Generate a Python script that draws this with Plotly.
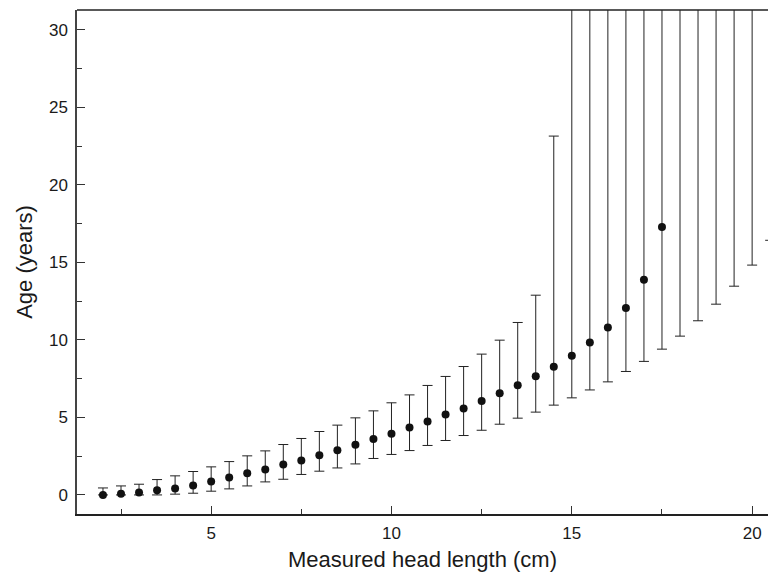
import plotly.graph_objects as go

# Measured head length (cm)
head_length = [2.0, 2.5, 3.0, 3.5, 4.0, 4.5, 5.0, 5.5, 6.0, 6.5, 7.0, 7.5, 8.0, 8.5,
               9.0, 9.5, 10.0, 10.5, 11.0, 11.5, 12.0, 12.5, 13.0, 13.5, 14.0, 14.5,
               15.0, 15.5, 16.0, 16.5, 17.0, 17.5, 18.0, 18.5, 19.0, 19.5, 20.0, 20.5]
# Estimated age (years); None where no estimate is shown
age = [0.0, 0.07, 0.15, 0.30, 0.41, 0.61, 0.86, 1.12, 1.40, 1.64, 1.96, 2.22, 2.56, 2.88,
       3.23, 3.61, 3.94, 4.35, 4.74, 5.19, 5.57, 6.05, 6.55, 7.08, 7.66, 8.26,
       8.97, 9.83, 10.80, 12.05, 13.87, 17.27, None, None, None, None, None, None]
# Lower limit of interval
age_lower = [0.0, 0.0, 0.0, 0.0, 0.05, 0.11, 0.24, 0.39, 0.58, 0.84, 1.01, 1.32, 1.53, 1.74,
             2.00, 2.35, 2.61, 2.86, 3.19, 3.51, 3.83, 4.17, 4.56, 4.95, 5.34, 5.79,
             6.26, 6.77, 7.29, 7.96, 8.61, 9.40, 10.24, 11.23, 12.30, 13.46, 14.82, 16.42]
# Upper limit of interval (60 = unbounded, runs off the top of the chart)
age_upper = [0.45, 0.58, 0.69, 0.99, 1.23, 1.51, 1.81, 2.15, 2.52, 2.84, 3.25, 3.64, 4.09, 4.50,
             4.97, 5.42, 5.94, 6.45, 7.06, 7.64, 8.28, 9.08, 9.98, 11.12, 12.88, 23.14,
             60, 60, 60, 60, 60, 60, 60, 60, 60, 60, 60, 60]

x_ticks = [5, 10, 15, 20]
y_ticks = [0, 5, 10, 15, 20, 25, 30]

bar_len = [u - l for u, l in zip(age_upper, age_lower)]
zeros = [0] * len(age_lower)

fig = go.Figure()
# intervals
fig.add_trace(go.Scatter(
    x=head_length, y=age_lower, mode="markers",
    marker=dict(size=1, opacity=0),
    error_y=dict(type="data", symmetric=False, array=bar_len, arrayminus=zeros,
                 color="#222222", thickness=1, width=5),
    showlegend=False, hoverinfo="skip"))
# point estimates
fig.add_trace(go.Scatter(
    x=head_length, y=age, mode="markers",
    marker=dict(size=8, color="#111111", symbol="circle"),
    showlegend=False))

font_family = "Liberation Sans, Arial, Helvetica, sans-serif"
fig.update_layout(
    width=768, height=572,
    margin=dict(l=77, r=0, t=10, b=58, autoexpand=False),
    paper_bgcolor="white", plot_bgcolor="white",
    font=dict(family=font_family, color="#1a1a1a", size=17),
    xaxis=dict(
        range=[1.28, 20.44], tickvals=x_ticks, ticktext=[str(v) for v in x_ticks],
        ticks="inside", ticklen=8, tickwidth=1, tickcolor="#333",
        minor=dict(dtick=2.5, tick0=0, ticks="inside", ticklen=5, tickcolor="#333", tickwidth=1, showgrid=False),
        showline=True, linecolor="#222", linewidth=1.5, mirror=False,
        showgrid=False, zeroline=False, automargin=False,
        tickfont=dict(size=17), ticklabelstandoff=3,
        title=dict(text="Measured head length (cm)", font=dict(size=22), standoff=10),
    ),
    yaxis=dict(
        range=[-1.23, 31.27], tickvals=y_ticks, ticktext=[str(v) for v in y_ticks],
        ticks="inside", ticklen=8, tickwidth=1, tickcolor="#333",
        minor=dict(dtick=2.5, tick0=0, ticks="inside", ticklen=5, tickcolor="#333", tickwidth=1, showgrid=False),
        showline=True, linecolor="#444", linewidth=1.5, mirror=False,
        showgrid=False, zeroline=False, automargin=False,
        tickfont=dict(size=17), ticklabelstandoff=4,
        title=dict(text="Age (years)", font=dict(size=22), standoff=10),
    ),
    shapes=[dict(type="line", xref="paper", yref="paper", x0=0, x1=1, y0=1, y1=1,
                 line=dict(color="#222", width=1.5))],
)

fig.write_html(
    "out.html",
    config={"displayModeBar": False},
    post_script="document.body.style.margin='0';document.body.style.overflow='hidden';",
)
